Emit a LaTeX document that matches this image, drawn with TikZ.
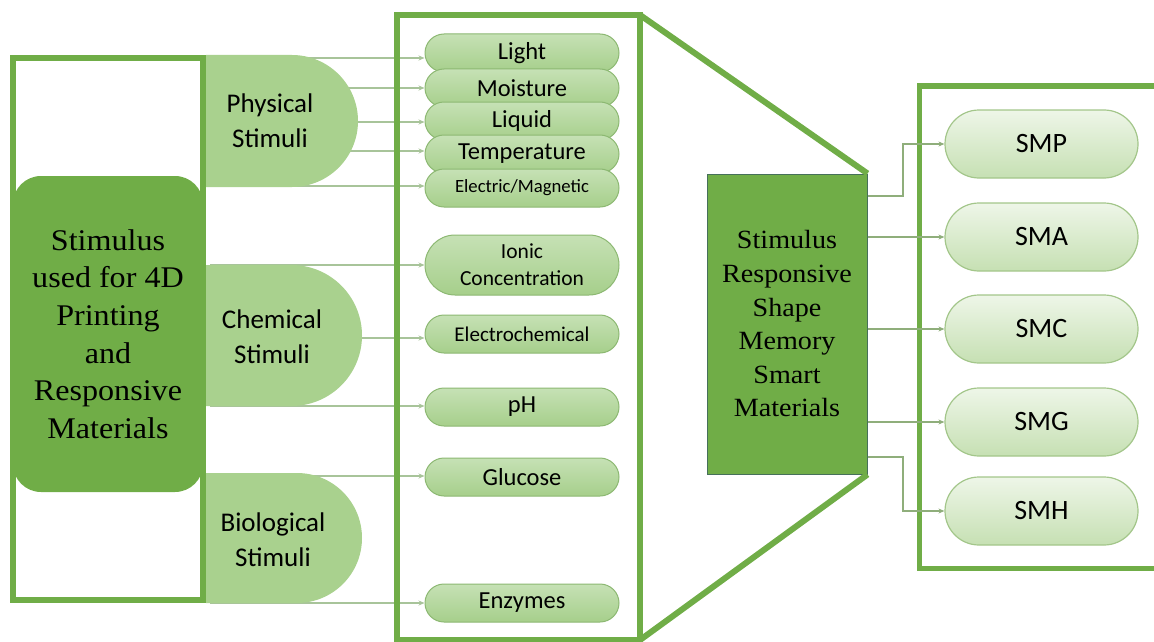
\documentclass[tikz,border=0pt]{standalone}
\usepackage{fontspec}
\newfontfamily\headserif[FakeStretch=1.07]{Liberation Serif}
\newfontfamily\calib{Carlito}
\usetikzlibrary{shapes.misc,arrows.meta}

\definecolor{frame}{HTML}{70AD47}
\definecolor{deepfill}{HTML}{70AD47}
\definecolor{deepedge}{HTML}{46705A}
\definecolor{stimfill}{HTML}{A9D18E}
\definecolor{itemtop}{HTML}{C6E1B5}
\definecolor{itembot}{HTML}{A6CF8B}
\definecolor{itemedge}{HTML}{8CB872}
\definecolor{smtop}{HTML}{EEF6E8}
\definecolor{smbot}{HTML}{C6E0B3}
\definecolor{smedge}{HTML}{A3C68A}
\definecolor{feedline}{HTML}{A8C49A}
\definecolor{outline}{HTML}{8FAE7B}

\begin{document}
\begin{tikzpicture}[x=1pt,y=-1pt,
  frameline/.style={draw=frame,line width=6pt},
  stimshape/.style={rounded rectangle,rounded rectangle left arc=none,
    fill=stimfill,inner sep=0pt},
  stimtext/.style={font=\calib\fontsize{27}{35}\selectfont,align=center,inner sep=0pt},
  item/.style={rounded rectangle,minimum width=194pt,minimum height=38pt,
    top color=itemtop,bottom color=itembot,draw=itemedge,line width=1pt,
    inner sep=0pt,align=center,font=\calib\fontsize{24.5}{28}\selectfont},
  smitem/.style={rounded rectangle,minimum width=193pt,minimum height=68pt,
    top color=smtop,bottom color=smbot,draw=smedge,line width=1.2pt,
    inner sep=0pt,font=\calib\fontsize{28}{32}\selectfont},
  feed/.style={draw=feedline,line width=1.3pt,-{Stealth[length=6pt,width=5pt]}},
  outlink/.style={draw=outline,line width=1.4pt,-{Stealth[length=6pt,width=5pt]}}]

\useasboundingbox (0,0) rectangle (1154,642);
\clip (0,0) rectangle (1154,642);

% stimulus items in the middle column
\node[item] (light)  at (522,53)  {Light};
\node[item] (moist)  at (522,88)  {Moisture};
\node[item] (liquid) at (522,121) {Liquid};
\node[item] (temp)   at (522,154) {Temperature};
\node[item,font=\calib\fontsize{18.7}{22}\selectfont] (elec) at (522,188) {Electric/Magnetic};
\node[item,minimum height=60pt,font=\calib\fontsize{21.5}{27}\selectfont] (ionic) at (522,265) {Ionic\\Concentration};
\node[item,font=\calib\fontsize{21}{25}\selectfont] (echem) at (522,334) {Electrochemical};
\node[item] (ph)   at (522,407) {pH};
\node[item] (gluc) at (522,477) {Glucose};
\node[item] (enz)  at (522,603) {Enzymes};

% feeds from the stimulus groups (drawn under the group shapes)
\coordinate (f1) at (210,58);
\coordinate (f2) at (210,88);
\coordinate (f3) at (210,122);
\coordinate (f4) at (210,151);
\coordinate (f5) at (210,186);
\coordinate (f6) at (210,265);
\coordinate (f7) at (210,338);
\coordinate (f8) at (210,406);
\coordinate (f9) at (210,476);
\coordinate (f10) at (210,603);
\draw[feed] (f1) -- (f1 -| light.west);
\draw[feed] (f2) -- (f2 -| moist.west);
\draw[feed] (f3) -- (f3 -| liquid.west);
\draw[feed] (f4) -- (f4 -| temp.west);
\draw[feed] (f5) -- (f5 -| elec.west);
\draw[feed] (f6) -- (f6 -| ionic.west);
\draw[feed] (f7) -- (f7 -| echem.west);
\draw[feed] (f8) -- (f8 -| ph.west);
\draw[feed] (f9) -- (f9 -| gluc.west);
\draw[feed] (f10) -- (f10 -| enz.west);

% stimulus groups
\node[stimshape,minimum width=152pt,minimum height=132pt] (phys) at (282,121) {};
\node[stimshape,minimum width=156pt,minimum height=141pt] (chem) at (284,335.5) {};
\node[stimshape,minimum width=156pt,minimum height=130pt] (bio)  at (284,538) {};
\node[stimtext] (physlabel) at (270,120.5) {Physical\\Stimuli};
\node[stimtext] (chemlabel) at (272,337) {Chemical\\Stimuli};
\node[stimtext] (biolabel)  at (273,539.5) {Biological\\Stimuli};

% left frame and root box
\draw[frameline] (13,58) rectangle (203,600);
\node[fill=deepfill,rounded corners=28pt,minimum width=190pt,minimum height=316pt,
  inner sep=0pt,align=center,font=\headserif\fontsize{30}{37.6}\selectfont]
  (root) at (108,334) {Stimulus\\used for 4D\\Printing\\and\\Responsive\\Materials};

% middle frame
\draw[frameline] (397,15) rectangle (640,640);

% central material box with the zoom lines
\node[draw=deepedge,fill=deepfill,line width=1pt,minimum width=160pt,minimum height=300pt,
  inner sep=0pt,align=center,font=\headserif\fontsize{26.3}{33.6}\selectfont]
  (mid) at (787,324) {Stimulus\\Responsive\\Shape\\Memory\\Smart\\Materials};
\draw[frameline] (640,15) -- (mid.north east);
\draw[frameline] (640,640) -- (mid.south east);

% right frame
\draw[frameline,line width=5pt] (919,86) rectangle (1180,568);

% material classes
\node[smitem] (smp) at (1041.5,144) {SMP};
\node[smitem] (sma) at (1041.5,237) {SMA};
\node[smitem] (smc) at (1041.5,329) {SMC};
\node[smitem] (smg) at (1041.5,422) {SMG};
\node[smitem] (smh) at (1041.5,511) {SMH};

\draw[outlink] (mid.east |- 0,196) -- (903,196) |- (smp.west);
\draw[outlink] (mid.east |- sma.west) -- (sma.west);
\draw[outlink] (mid.east |- smc.west) -- (smc.west);
\draw[outlink] (mid.east |- smg.west) -- (smg.west);
\draw[outlink] (mid.east |- 0,457) -- (903,457) |- (smh.west);
\end{tikzpicture}
\end{document}
